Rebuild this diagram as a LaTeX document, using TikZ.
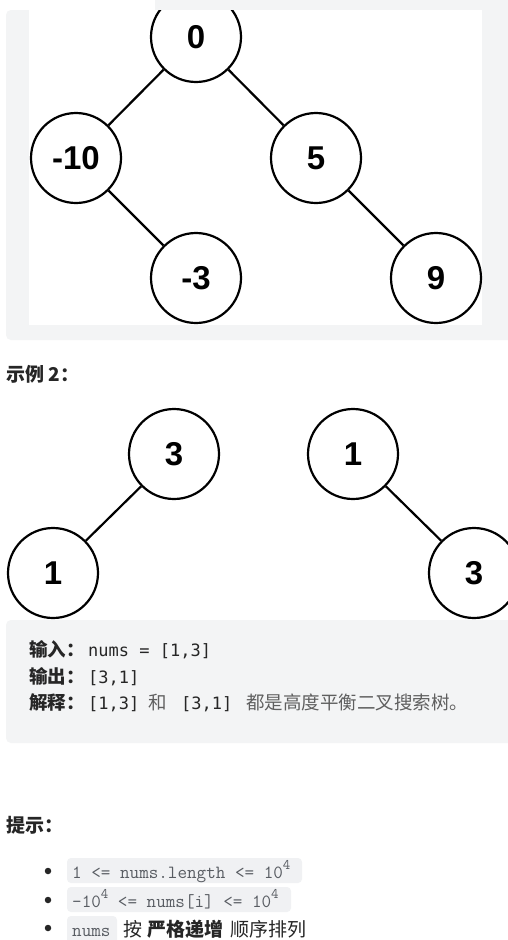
\documentclass[tikz,border=0pt]{standalone}
\usepackage{fontspec}
\newfontfamily\cjk{Noto Sans CJK SC}
\newfontfamily\treefont{Liberation Sans}
\newfontfamily\codefont{DejaVu Sans Mono}
\definecolor{pagegray}{RGB}{243,244,245}
\definecolor{codegray}{RGB}{240,241,243}
\definecolor{headc}{RGB}{38,38,38}
\definecolor{softc}{RGB}{95,95,95}
\definecolor{codetxt}{RGB}{88,92,98}
\newcommand{\supfour}{\raisebox{0.45em}{\fontsize{14.5}{15}\selectfont 4}}
\begin{document}
\begin{tikzpicture}[x=1pt,y=-1pt,
  treenode/.style={circle, draw=black, line width=2.2pt, minimum size=90pt, inner sep=0pt,
    font=\treefont\bfseries\fontsize{33}{36}\selectfont},
  edge/.style={line width=2.2pt, black},
  txt/.style={anchor=base west, inner sep=0pt, text=headc},
  cjkhead/.style={txt, font=\cjk\bfseries\fontsize{19}{22}\selectfont},
  cjkbold/.style={txt, font=\cjk\bfseries\fontsize{18.5}{22}\selectfont},
  cjksoft/.style={txt, text=softc, font=\cjk\fontsize{18.5}{22}\selectfont},
  cjkreg/.style={txt, font=\cjk\fontsize{19}{22}\selectfont},
  cjkregb/.style={txt, font=\cjk\bfseries\fontsize{19}{22}\selectfont},
  mono/.style={txt, font=\codefont\fontsize{17}{20}\selectfont},
  inl/.style={txt, text=codetxt, font=\ttfamily\fontsize{18.6}{20}\selectfont\addfontfeature{FakeBold=0.6}},
  bulletdot/.style={circle, fill=headc, inner sep=0pt, minimum size=6.5pt},
  codebox/.style={fill=codegray, rounded corners=4pt}
]
\useasboundingbox (0,0) rectangle (508,940);
\fill[white] (0,0) rectangle (508,940);

% ---------- example 1 panel ----------
\fill[pagegray, rounded corners=5pt] (6,10) rectangle (530,340);
\fill[pagegray] (155,0) rectangle (508,12);
\fill[white] (29,10) rectangle (482,325);
\begin{scope}
  \clip (29,10) rectangle (482,325);
  \node[treenode] (n0) at (196,37) {0};
  \node[treenode] (nm10) at (76,158) {-10};
  \node[treenode] (n5) at (316,158) {5};
  \node[treenode] (nm3) at (196,278) {-3};
  \node[treenode] (n9) at (436,278) {9};
  \draw[edge] (n0) -- (nm10);
  \draw[edge] (n0) -- (n5);
  \draw[edge] (nm10) -- (nm3);
  \draw[edge] (n5) -- (n9);
\end{scope}

% ---------- example 2 ----------
\node[cjkhead] (h2) at (6,381) {示例 2：};

\node[treenode] (la) at (174,454) {3};
\node[treenode] (lb) at (53,573) {1};
\node[treenode] (ra) at (353,454) {1};
\node[treenode] (rb) at (474,573) {3};
\draw[edge] (la) -- (lb);
\draw[edge] (ra) -- (rb);

\fill[pagegray, rounded corners=5pt] (6,620) rectangle (530,743);
\node[cjkbold] (in1) at (29,656) {输入：};
\node[mono] (in2) at (88,656) {nums = [1,3]};
\node[cjkbold] (out1) at (29,683) {输出：};
\node[mono] (out2) at (88,683) {[3,1]};
\node[cjkbold] (ex1) at (29,709) {解释：};
\node[mono] (ex2) at (88,709) {[1,3]};
\node[cjksoft] (ex3) at (148,709) {和};
\node[mono] (ex4) at (181,709) {[3,1]};
\node[cjksoft] (ex5) at (246,709) {都是高度平衡二叉搜索树。};

% ---------- hints ----------
\node[cjkhead] (h3) at (6,832) {提示：};

\node[bulletdot] (b1) at (48,871) {};
\node[bulletdot] (b2) at (48,900) {};
\node[bulletdot] (b3) at (48,928) {};

\fill[codebox] (67,858) rectangle (302,883);
\fill[codebox] (67,887) rectangle (291,912);
\fill[codebox] (67,916) rectangle (117,946);

\node[inl] (c1) at (72,878) {1 <= nums.length <= 10\supfour};
\node[inl] (c2) at (72,907) {-10\supfour{} <= nums[i] <= 10\supfour};
\node[inl] (c3) at (72,936) {nums};
\node[cjkreg] (t1) at (123,936) {按};
\node[cjkregb] (t2) at (147,936) {严格递增};
\node[cjkreg] (t3) at (230,936) {顺序排列};
\end{tikzpicture}
\end{document}
